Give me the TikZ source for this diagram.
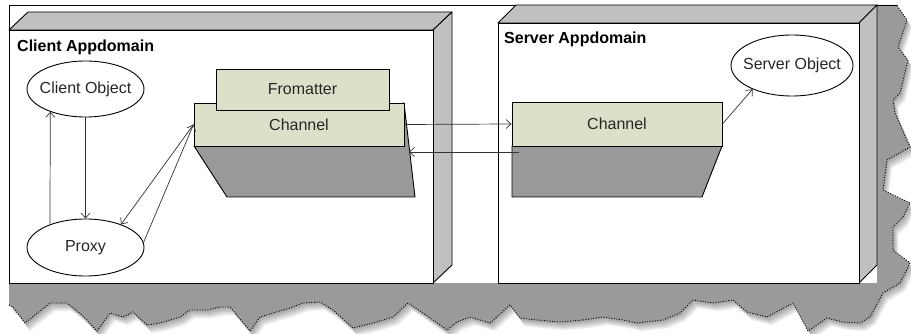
\documentclass[tikz,border=0pt]{standalone}
\usepackage{fontspec}
\setmainfont{Liberation Sans}
\usetikzlibrary{shapes.geometric,arrows.meta,calc}
\definecolor{chfill}{HTML}{DDE0C9}
\definecolor{boxgray}{HTML}{C0C0C0}
\definecolor{facegray}{HTML}{999999}
\definecolor{papergray}{HTML}{9A9A9A}
\def\jag{(9,305) -- (13,307) -- (25,323) -- (35,315) -- (50,303) -- (67,303) -- (82,315) -- (97,331) -- (110,313) -- (123,317) -- (133,312) -- (147,325) -- (160,323) -- (180,317) -- (190,310) -- (207,310) -- (220,307) -- (230,307) -- (250,331) -- (260,317) -- (273,313) -- (290,308) -- (303,303) -- (320,302) -- (333,310) -- (353,328) -- (373,323) -- (393,317) -- (408,303) -- (423,313) -- (447,330) -- (457,322) -- (470,317) -- (490,323) -- (510,305) -- (520,318) -- (537,320) -- (560,322) -- (583,320) -- (603,317) -- (623,320) -- (637,323) -- (663,320) -- (680,313) -- (693,300) -- (713,303) -- (733,300) -- (747,312) -- (767,317) -- (793,303) -- (808,331) -- (827,318) -- (843,322) -- (860,323) -- (870,317) -- (883,293) -- (900,283) -- (910,263) -- (893,250) -- (893,227) -- (903,217) -- (910,203) -- (883,190) -- (887,160) -- (910,147) -- (895,113) -- (893,100) -- (900,93) -- (908,60) -- (898,47) -- (907,20) -- (898,7) -- (897,5)}
\begin{document}
\begin{tikzpicture}[x=1pt,y=-1pt,
  txt/.style={font=\fontsize{16}{19}\selectfont, text=black!85},
  ttl/.style={font=\fontsize{16}{19}\selectfont\bfseries, anchor=west, inner sep=0pt},
  obj/.style={ellipse, draw, line width=0.9pt, fill=white, inner sep=0pt, txt},
  chan/.style={rectangle, draw, line width=0.9pt, fill=chfill, inner sep=0pt, txt},
  face/.style={fill=facegray, draw, line width=0.9pt, line join=round},
  side/.style={fill=boxgray, draw, line width=0.9pt, line join=round},
  arr/.style={draw=black!80, line width=0.7pt, -{Straight Barb[length=5pt,width=9pt]}}]
\useasboundingbox (0,0) rectangle (911,334);
\fill[white] (0,0) rectangle (911,334);
% torn paper shadow
\foreach \s in {1,2,3,4,5}{
  \fill[black, opacity=0.08, shift={(\s,1.6*\s)}] \jag -- (877,5) -- (877,283) -- (9,283) -- cycle;
}
\fill[papergray] \jag -- (877,5) -- (877,283) -- (9,283) -- cycle;
\draw[line width=0.9pt, dash pattern=on 1pt off 1.6pt] \jag;
% paper
\fill[white] (9,5) rectangle (877,283);
\draw[line width=0.9pt] (9,283) -- (9,5) -- (897,5);
% client appdomain box
\draw[side] (9,30) -- (28,12) -- (452,12) -- (433,30) -- cycle;
\draw[side] (433,30) -- (452,12) -- (452,265) -- (433,283) -- cycle;
\draw[line width=0.9pt, fill=white] (9,30) rectangle (433,283);
% server appdomain box
\draw[side] (498,23) -- (516,5) -- (877,5) -- (859,23) -- cycle;
\draw[side] (859,23) -- (877,5) -- (877,265) -- (859,283) -- cycle;
\draw[line width=0.9pt, fill=white] (498,23) rectangle (859,283);
% titles
\node[ttl] (ct) at (17,47) {Client Appdomain};
\node[ttl] (st) at (504,39) {Server Appdomain};
% client channel
\draw[face] (194,146) -- (227,197) -- (415,197) -- (404,103) -- cycle;
\node[chan, minimum width=210pt, minimum height=43pt] (cch) at (299,124.5) {Channel};
\node[chan, minimum width=173pt, minimum height=41pt] (fmt) at (302.5,89.5) {Fromatter};
% server channel
\draw[face] (512,146) -- (512,197) -- (702,197) -- (722,146) -- cycle;
\node[chan, minimum width=210pt, minimum height=44pt] (sch) at (617,124) {Channel};
% objects
\node[obj, minimum width=117pt, minimum height=56pt] (co) at (85.5,89) {\makebox[0pt]{Client Object}};
\node[obj, minimum width=117pt, minimum height=57pt] (px) at (85.5,247.5) {\makebox[0pt]{Proxy}};
\node[obj, minimum width=122pt, minimum height=61pt] (so) at (792,65.5) {\makebox[0pt]{Server Object}};
% connectors
\draw[arr] (px.147) -- (co.213);
\draw[arr] (co.south) -- (px.north);
\draw[arr] (cch.west) -- (px.33);
\draw[arr] (px.5) -- (cch.west);
\draw[arr] (cch.east) -- (sch.west);
\coordinate (sgr) at (519,152);
\coordinate (cgr) at (409,152);
\draw[arr] (sgr) -- (cgr);
\draw[arr] (sch.east) -- (so.211);
\end{tikzpicture}
\end{document}
